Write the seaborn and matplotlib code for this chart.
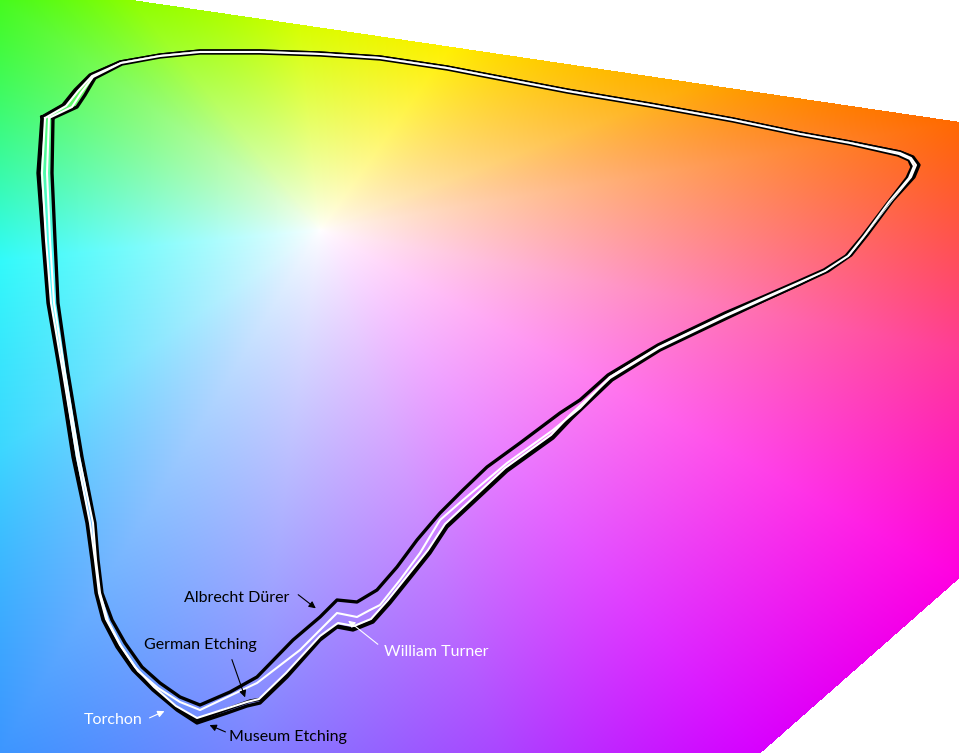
import numpy as np
import pandas as pd
import matplotlib
matplotlib.use('Agg')
import matplotlib.pyplot as plt
import seaborn as sns

# gamut outlines, in picture coordinates (x right, y down)
museum_x = [42, 63, 75, 90, 120, 160, 200, 260, 320, 380, 447, 520, 567, 650, 733, 800, 850, 900, 913, 919, 914, 893, 867, 851, 828, 800, 767, 727, 660, 612, 572, 553, 507, 447, 430, 410, 390, 373, 353, 337, 320, 287, 260, 247, 227, 197, 177, 153, 133, 117, 103, 96, 92, 87, 73, 60, 48, 43, 38, 42]
museum_y = [117, 105, 90, 75, 62, 55, 51, 51, 53, 57, 67, 81, 90, 104, 119, 133, 142, 152, 157, 165, 177, 200, 235, 255, 271, 284, 299, 318, 350, 380, 418, 438, 471, 527, 553, 578, 603, 622, 630, 627, 640, 677, 703, 706, 713, 723, 710, 690, 670, 647, 620, 593, 560, 523, 457, 373, 303, 240, 173, 117]

german_x = [43, 64, 76, 91, 120, 160, 200, 260, 320, 380, 447, 520, 567, 650, 733, 800, 850, 900, 912, 918, 913, 892, 866, 850, 827, 800, 767, 727, 660, 611, 571, 552, 506, 446, 429, 409, 389, 372, 353, 337, 320, 287, 262, 250, 225, 198, 177, 154, 134, 118, 104, 97, 93, 88, 74, 61, 49, 44, 39, 43]
german_y = [117, 105, 90, 75, 62, 55, 51, 51, 53, 57, 67, 81, 90, 104, 119, 133, 142, 152, 157, 165, 177, 200, 235, 255, 270, 284, 299, 317, 349, 379, 417, 437, 470, 526, 552, 577, 602, 621, 629, 626, 638, 674, 699, 701, 710, 720, 708, 689, 669, 646, 620, 593, 560, 523, 457, 373, 303, 240, 173, 117]

torchon_x = [45, 66, 78, 92, 121, 160, 200, 260, 320, 380, 447, 520, 567, 650, 733, 800, 850, 900, 911, 916, 911, 891, 865, 849, 826, 799, 766, 726, 659, 610, 570, 551, 505, 445, 428, 408, 388, 371, 354, 338, 320, 286, 259, 247, 225, 197, 176, 154, 135, 120, 106, 99, 95, 90, 77, 63, 51, 46, 42, 45]
torchon_y = [118, 106, 91, 76, 63, 56, 52, 52, 54, 58, 68, 82, 91, 105, 120, 134, 143, 153, 158, 165, 177, 201, 235, 255, 270, 283, 298, 316, 348, 378, 415, 435, 468, 524, 550, 575, 600, 619, 626, 623, 636, 673, 699, 702, 709, 718, 706, 687, 667, 645, 619, 593, 560, 523, 457, 373, 303, 240, 173, 118]

durer_x = [53, 77, 85, 95, 122, 160, 200, 260, 320, 380, 447, 520, 567, 650, 733, 800, 850, 898, 909, 912, 907, 887, 862, 846, 824, 797, 765, 725, 658, 608, 580, 560, 520, 487, 463, 440, 417, 397, 377, 357, 337, 320, 293, 257, 230, 200, 180, 160, 142, 125, 112, 102, 98, 95, 82, 68, 58, 55, 52, 53]
durer_y = [118, 107, 95, 78, 64, 57, 53, 53, 55, 59, 69, 83, 92, 106, 121, 135, 144, 155, 160, 167, 178, 204, 237, 256, 270, 282, 296, 313, 345, 375, 400, 413, 443, 467, 490, 513, 540, 567, 590, 602, 600, 617, 640, 677, 692, 705, 697, 683, 667, 643, 620, 593, 560, 523, 457, 373, 303, 240, 173, 118]

turner_x = [49, 72, 81, 93, 121, 160, 200, 260, 320, 380, 447, 520, 567, 650, 733, 800, 850, 899, 910, 914, 909, 889, 864, 848, 825, 798, 766, 726, 659, 610, 580, 553, 507, 463, 440, 420, 400, 380, 370, 357, 337, 320, 300, 257, 200, 180, 158, 138, 121, 108, 100, 96, 93, 79, 65, 54, 50, 47, 49]
turner_y = [118, 107, 93, 77, 63, 56, 52, 52, 54, 58, 68, 82, 91, 105, 120, 134, 143, 154, 159, 166, 178, 202, 236, 256, 271, 283, 297, 315, 347, 377, 408, 430, 463, 500, 520, 553, 580, 605, 610, 617, 613, 630, 650, 683, 710, 702, 688, 671, 646, 621, 593, 560, 523, 457, 373, 303, 240, 173, 118]

W, H = 959, 753

# colour plane in the background
cx, cy = 320, 230
poly = np.array([[0, 0], [130, 0], [959, 122], [959, 578], [760, 753], [0, 753], [0, 0]], float)
pts = []
for a, b in zip(poly[:-1], poly[1:]):
    s = np.linspace(0, 1, 800, endpoint=False)[:, None]
    pts.append(a + s * (b - a))
pts = np.vstack(pts)
ang_b = np.arctan2(-(pts[:, 1] - cy), pts[:, 0] - cx)
rad_b = np.hypot(pts[:, 0] - cx, pts[:, 1] - cy)
o = np.argsort(ang_b)
ang_b, rad_b = ang_b[o], rad_b[o]

anchors = [
    (0, 0, (70, 250, 30)), (130, 0, (140, 255, 0)), (300, 25, (215, 255, 0)),
    (450, 47, (255, 240, 0)), (700, 84, (255, 170, 0)), (959, 122, (255, 105, 0)),
    (959, 350, (255, 60, 150)), (959, 578, (255, 0, 225)), (760, 753, (215, 0, 255)),
    (500, 753, (170, 70, 255)), (250, 753, (125, 130, 255)), (0, 753, (60, 150, 255)),
    (0, 450, (60, 215, 255)), (0, 260, (50, 250, 250)), (0, 130, (60, 250, 130)),
]
a_ang = np.array([np.arctan2(-(y - cy), x - cx) for x, y, _ in anchors])
a_col = np.array([c for _, _, c in anchors], float) / 255
o = np.argsort(a_ang)
a_ang, a_col = a_ang[o], a_col[o]

yy, xx = np.mgrid[0:H, 0:W] + 0.5
ang = np.arctan2(-(yy - cy), xx - cx)
r = np.hypot(xx - cx, yy - cy)
r_edge = np.interp(ang, ang_b, rad_b, period=2 * np.pi)
t = np.clip(r / r_edge, 0, 1) ** 0.8
img = np.ones((H, W, 3))
for k in range(3):
    edge = np.interp(ang, a_ang, a_col[:, k], period=2 * np.pi)
    img[..., k] = 1 - t * (1 - edge)
img[r > r_edge + 0.5] = 1

fig = plt.figure(figsize=(W / 100, H / 100), dpi=100)
ax = fig.add_axes([0, 0, 1, 1])
ax.imshow(img, extent=[0, W, H, 0], interpolation='bilinear')

gamuts = [
    ('German Etching', german_x, german_y, 'black', 2.4),
    ('Museum Etching', museum_x, museum_y, 'black', 2.4),
    ('Torchon', torchon_x, torchon_y, 'white', 1.5),
    ('Albrecht Dürer', durer_x, durer_y, 'black', 2.4),
    ('William Turner', turner_x, turner_y, 'white', 1.5),
]
for name, gx, gy, col, lw in gamuts:
    df = pd.DataFrame({'x': gx, 'y': gy})
    sns.lineplot(data=df, x='x', y='y', sort=False, estimator=None, color=col, lw=lw, ax=ax)

# labels with arrows
font = ['Lato', 'DejaVu Sans']
labels = [
    ('Albrecht Dürer', 237, 598, 'black', (296, 593), (318, 610)),
    ('German Etching', 200, 645, 'black', (231, 657), (246, 700)),
    ('William Turner', 436, 652, 'white', (380, 646), (346, 619)),
    ('Torchon', 113, 720, 'white', (147, 719), (167, 710)),
    ('Museum Etching', 288, 737, 'black', (228, 733), (207, 724)),
]
for txt, tx, ty, col, a0, a1 in labels:
    ax.text(tx, ty, txt, color=col, fontsize=11.5, family=font, ha='center', va='center')
    ax.annotate('', xy=a1, xytext=a0,
                arrowprops=dict(arrowstyle='-|>', color=col, lw=0.8, mutation_scale=10))

ax.set_xlim(0, W)
ax.set_ylim(H, 0)
ax.axis('off')
plt.savefig('out.png', dpi=100)
